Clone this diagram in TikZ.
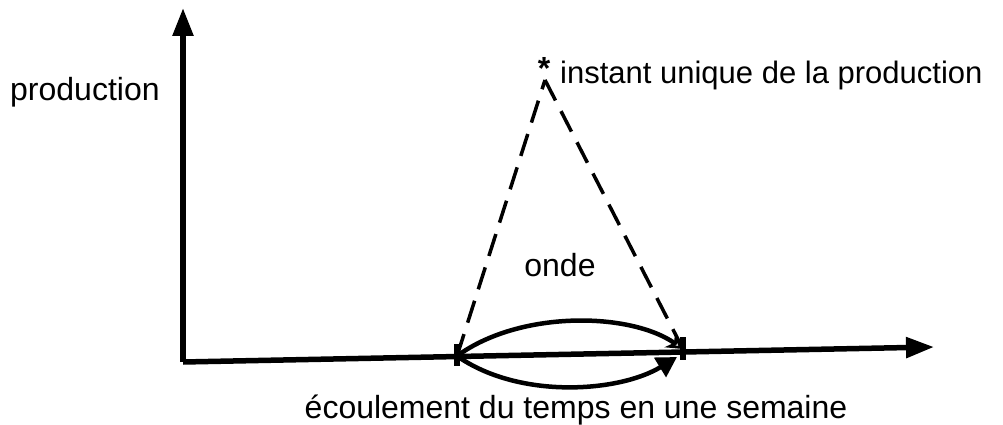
\documentclass[tikz,border=0pt]{standalone}
\usepackage{fontspec}
\setmainfont{Liberation Sans}
\usetikzlibrary{arrows.meta}
\begin{document}
\begin{tikzpicture}[x=1pt,y=-1pt,
  axis/.style={line width=5.5pt,-{Triangle[length=28pt,width=20pt]}},
  arc/.style={line width=4.5pt},
  wave/.style={line width=3.5pt,dash pattern=on 23pt off 12pt},
  tick/.style={line width=5.5pt},
  lbl/.style={font=\fontsize{32}{38}\selectfont,inner sep=0pt}]
\useasboundingbox (0,0) rectangle (1003,425);
\coordinate (O) at (183,362);
\coordinate (Y) at (183,8);
\coordinate (X) at (934,347);
\coordinate (L) at (457,356);
\coordinate (R) at (683,349);
\coordinate (A) at (545,80);
\draw[axis] (O) -- (Y);
\draw[axis] (O) -- (X);
\draw[tick] (457,344) -- (457,366);
\draw[tick] (683,337) -- (683,360);
\draw[wave] (L) -- (A);
\draw[wave] (A) -- (R);
\draw[arc,-{Stealth[length=16pt,width=18pt,open]}] (L) .. controls (520,310) and (630,312) .. (R);
\draw[arc,-{Triangle[length=20pt,width=22pt]}] (L) .. controls (520,400) and (620,392) .. (677,357);
\node[lbl,anchor=west] (prod) at (10,92) {production};
\node[lbl,anchor=west,font=\fontsize{31}{37}\selectfont] (inst) at (560,75) {instant unique de la production};
\node[font=\bfseries\fontsize{32}{38}\selectfont,inner sep=0pt] (star) at (544,68) {*};
\node[lbl] (onde) at (560,265) {onde};
\node[lbl] (ecoul) at (576,410) {écoulement du temps en une semaine};
\end{tikzpicture}
\end{document}
